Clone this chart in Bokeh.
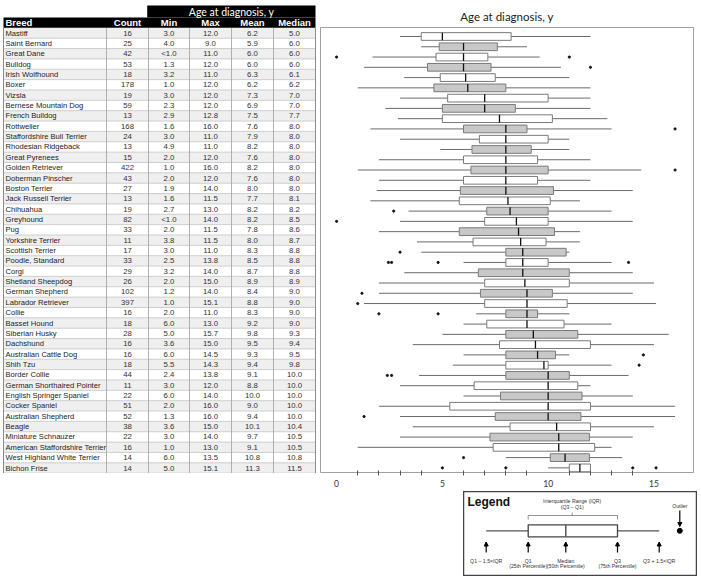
from bokeh.plotting import figure
from bokeh.models import ColumnDataSource, FixedTicker, Arrow, NormalHead, Spacer, Range1d
from bokeh.layouts import row, column
from bokeh.core.properties import value
from bokeh.embed import file_html
from bokeh.resources import INLINE

# ---------------- data ----------------
breeds = ["Mastiff", "Saint Bernard", "Great Dane", "Bulldog", "Irish Wolfhound", "Boxer", "Vizsla",
          "Bernese Mountain Dog", "French Bulldog", "Rottweiler", "Staffordshire Bull Terrier",
          "Rhodesian Ridgeback", "Great Pyrenees", "Golden Retriever", "Doberman Pinscher",
          "Boston Terrier", "Jack Russell Terrier", "Chihuahua", "Greyhound", "Pug",
          "Yorkshire Terrier", "Scottish Terrier", "Poodle, Standard", "Corgi", "Shetland Sheepdog",
          "German Shepherd", "Labrador Retriever", "Collie", "Basset Hound", "Siberian Husky",
          "Dachshund", "Australian Cattle Dog", "Shih Tzu", "Border Collie",
          "German Shorthaired Pointer", "English Springer Spaniel", "Cocker Spaniel",
          "Australian Shepherd", "Beagle", "Miniature Schnauzer", "American Staffordshire Terrier",
          "West Highland White Terrier", "Bichon Frise"]
counts = [16, 25, 42, 53, 18, 178, 19, 59, 13, 168, 24, 13, 15, 422, 43, 27, 13, 19, 82, 33, 11, 17,
          33, 29, 26, 102, 397, 16, 18, 28, 16, 16, 18, 44, 11, 22, 51, 52, 38, 22, 16, 14, 14]
age_min = ["3.0", "4.0", "<1.0", "1.3", "3.2", "1.0", "3.0", "2.3", "2.9", "1.6", "3.0", "4.9", "2.0",
           "1.0", "2.0", "1.9", "1.6", "2.7", "<1.0", "2.0", "3.8", "3.0", "2.5", "3.2", "2.0", "1.2",
           "1.0", "2.0", "6.0", "5.0", "3.6", "6.0", "5.5", "2.4", "3.0", "6.0", "2.0", "1.3", "3.6",
           "3.0", "1.0", "6.0", "5.0"]
age_max = [12.0, 9.0, 11.0, 12.0, 11.0, 12.0, 12.0, 12.0, 12.8, 16.0, 11.0, 11.0, 12.0, 16.0, 12.0,
           14.0, 11.5, 13.0, 14.0, 11.5, 11.5, 11.0, 13.8, 14.0, 15.0, 14.0, 15.1, 11.0, 13.0, 15.7,
           15.0, 14.5, 14.3, 13.8, 12.0, 14.0, 16.0, 16.0, 15.0, 14.0, 13.0, 13.5, 15.1]
age_mean = [6.2, 5.9, 6.0, 6.0, 6.3, 6.2, 7.3, 6.9, 7.5, 7.6, 7.9, 8.2, 7.6, 8.2, 7.6, 8.0, 7.7, 8.2,
            8.2, 7.8, 8.0, 8.3, 8.5, 8.7, 8.9, 8.4, 8.8, 8.3, 9.2, 9.8, 9.5, 9.3, 9.4, 9.1, 8.8, 10.0,
            9.0, 9.4, 10.1, 9.7, 9.1, 10.8, 11.3]
age_median = [5.0, 6.0, 6.0, 6.0, 6.1, 6.2, 7.0, 7.0, 7.7, 8.0, 8.0, 8.0, 8.0, 8.0, 8.0, 8.0, 8.1, 8.2,
              8.5, 8.6, 8.7, 8.8, 8.8, 8.8, 8.9, 9.0, 9.0, 9.0, 9.0, 9.3, 9.4, 9.5, 9.8, 10.0, 10.0,
              10.0, 10.0, 10.0, 10.4, 10.5, 10.5, 10.8, 11.5]

# box-plot statistics
whisker_low = [3.0, 4.0, 1.7, 1.3, 3.2, 1.0, 3.0, 2.3, 2.9, 1.6, 3.0, 4.9, 2.0, 1.0, 2.0, 1.9, 1.6, 3.4,
               3.0, 2.0, 3.8, 4.0, 6.0, 3.2, 2.0, 2.0, 1.3, 6.6, 6.0, 5.0, 3.6, 6.0, 5.5, 3.9, 3.0, 6.0,
               2.0, 3.0, 3.6, 3.0, 1.0, 8.0, 10.0]
q1 = [4.0, 4.85, 4.7, 4.3, 4.9, 4.6, 5.25, 5.0, 5.0, 6.0, 6.75, 6.4, 6.0, 6.35, 6.0, 5.85, 5.8, 7.1,
      7.0, 5.8, 6.45, 8.0, 8.0, 6.7, 7.0, 6.8, 7.0, 8.0, 7.1, 8.0, 7.7, 8.0, 8.0, 8.0, 6.5, 7.75,
      5.35, 7.5, 8.2, 7.25, 7.4, 10.1, 11.0]
q3 = [8.25, 7.6, 7.15, 7.3, 7.5, 8.0, 10.0, 8.45, 10.2, 9.0, 10.0, 9.2, 9.5, 10.0, 9.5, 10.25, 10.1,
      10.0, 10.0, 10.3, 9.9, 10.85, 10.0, 11.0, 11.0, 10.2, 10.9, 9.5, 10.75, 11.4, 12.0, 10.35, 10.0,
      11.0, 11.4, 11.6, 12.0, 11.55, 12.0, 11.95, 12.2, 11.95, 12.0]
whisker_high = [12.0, 9.0, 9.6, 10.6, 11.0, 12.0, 12.0, 12.0, 12.8, 13.0, 11.0, 11.0, 12.0, 14.4,
                12.0, 14.0, 11.5, 13.0, 14.0, 11.5, 11.5, 11.0, 13.0, 14.0, 15.0, 14.0, 15.1, 11.0,
                13.0, 15.7, 15.0, 11.0, 13.0, 13.8, 12.0, 14.0, 16.0, 16.0, 15.0, 14.0, 13.0, 13.5,
                12.0]
outliers = [[], [], [0.0, 11.0], [12.0], [], [], [], [], [], [16.0], [], [], [], [16.0], [], [], [],
            [2.7], [0.0], [], [], [3.0], [2.45, 2.6, 4.8, 13.8], [], [], [1.2], [1.0], [2.0, 4.8], [],
            [], [], [14.5], [14.3], [2.4, 2.6], [], [], [], [1.3], [], [], [], [6.0],
            [5.0, 8.0, 14.0, 15.1]]
x_ticks = [0, 5, 10, 15]
x_minor_ticks = [1, 2, 3, 4, 6, 7, 8, 9, 11, 12, 13, 14]

n = len(breeds)
rows = list(range(n))
fmt = lambda v: f"{v:.1f}"

TXT = "#222222"
FONT = value("Liberation Sans")

# ---------------- table ----------------
tbl = figure(width=316, height=473, x_range=Range1d(0, 316), y_range=Range1d(42.53, -3.14),
             output_backend="svg", toolbar_location=None, min_border=0,
             x_axis_location=None, y_axis_location=None, outline_line_color=None)
tbl.grid.visible = False

T_L, T_R = 3, 315
col_edges = [106, 148, 189, 231, 273]
col_centers = [127, 168.5, 210, 252, 294]

shade_rows = [r for r in rows if r % 2 == 0]
tbl.quad(left=T_L, right=T_R, top=[r - 0.5 for r in shade_rows], bottom=[r + 0.5 for r in shade_rows],
         fill_color="#efefef", line_color=None)
tbl.segment(x0=T_L, x1=T_R, y0=[r + 0.5 for r in rows], y1=[r + 0.5 for r in rows],
            line_color="#c4c4c4", line_width=0.8)
tbl.segment(x0=col_edges, x1=col_edges, y0=-0.5, y1=n - 0.5, line_color="#a8a8a8", line_width=0.9)
tbl.segment(x0=[T_L, T_R], x1=[T_L, T_R], y0=-0.5, y1=n - 0.5, line_color="#8c8c8c", line_width=1)
# header bands
tbl.quad(left=146.7, right=T_R, top=-2.66, bottom=-1.5, fill_color="black", line_color=None)
tbl.quad(left=T_L, right=T_R, top=-1.5, bottom=-0.5, fill_color="black", line_color=None)
tbl.text(x=[231], y=[-2.06], text=["Age at diagnosis, y"], text_color="white",
         text_font=value("Lato"), text_font_size="10.5px", text_align="center", text_baseline="middle")
hdr = ["Count", "Min", "Max", "Mean", "Median"]
tbl.text(x=[5], y=[-1], text=["Breed"], text_color="white", text_font=FONT, text_font_size="9.5px",
         text_font_style="bold", text_align="left", text_baseline="middle")
tbl.text(x=col_centers, y=[-1] * len(hdr), text=hdr, text_color="white", text_font=FONT,
         text_font_size="9.5px", text_font_style="bold", text_align="center", text_baseline="middle")

src = ColumnDataSource(dict(row=rows, breed=breeds, count=[str(c) for c in counts], mn=age_min,
                            mx=[fmt(v) for v in age_max], mean=[fmt(v) for v in age_mean],
                            med=[fmt(v) for v in age_median]))
tbl.text(x=5, y="row", text="breed", source=src, text_color=TXT, text_font=FONT,
         text_font_size="7.6px", text_align="left", text_baseline="middle")
for cx, field in zip(col_centers, ["count", "mn", "mx", "mean", "med"]):
    tbl.text(x=cx, y="row", text=field, source=src, text_color="#333333", text_font=FONT,
             text_font_size="7.8px", text_align="center", text_baseline="middle")

# ---------------- box plot ----------------
bp = figure(frame_width=373, frame_height=445, x_range=Range1d(-0.76, 16.87),
            y_range=Range1d(42.45, -0.876), output_backend="svg", toolbar_location=None,
            min_border_left=4, min_border_right=3, min_border_top=27, min_border_bottom=19,
            y_axis_location=None, title="Age at diagnosis, y",
            outline_line_color="#a0a0a0", outline_line_width=1)
bp.title.align = "center"
bp.title.text_font = "Lato"
bp.title.text_font_size = "11.5px"
bp.title.text_font_style = "normal"
bp.title.text_color = "#222222"
bp.title.standoff = 10
bp.grid.visible = False
ax = bp.xaxis[0]
ax.ticker = FixedTicker(ticks=x_ticks, minor_ticks=x_minor_ticks)
ax.axis_line_color = None
ax.major_tick_in = 0
ax.major_tick_out = 0
ax.minor_tick_in = 2
ax.minor_tick_out = 3
ax.minor_tick_line_color = "#555555"
ax.major_label_standoff = 4
ax.major_label_text_font = "Lato"
ax.major_label_text_font_size = "8.5px"
ax.major_label_text_color = "#333333"

BH = 0.75
fills = ["white" if r % 2 == 0 else "#c8c8c8" for r in rows]
bsrc = ColumnDataSource(dict(row=rows, wl=whisker_low, q1=q1, med=age_median, q3=q3,
                             wh=whisker_high, fill=fills,
                             top=[r - BH / 2 for r in rows], bot=[r + BH / 2 for r in rows]))
bp.segment(x0="wl", x1="q1", y0="row", y1="row", source=bsrc, line_color="#6a6a6a", line_width=1)
bp.segment(x0="q3", x1="wh", y0="row", y1="row", source=bsrc, line_color="#6a6a6a", line_width=1)
bp.hbar(y="row", left="q1", right="q3", height=BH, fill_color="fill", line_color="#7a7a7a",
        line_width=1, source=bsrc)
bp.segment(x0="med", x1="med", y0="top", y1="bot", source=bsrc, line_color="#111111", line_width=1.3)
ox, oy = [], []
for r, outs in zip(rows, outliers):
    for v in outs:
        ox.append(v)
        oy.append(r)
bp.scatter(x=ox, y=oy, size=2.2, color="#111111")

# ---------------- legend schematic ----------------
leg = figure(width=234, height=85, x_range=Range1d(0, 234), y_range=Range1d(85, 0),
             output_backend="svg", toolbar_location=None, min_border=0,
             x_axis_location=None, y_axis_location=None,
             outline_line_color="#444444", outline_line_width=1.5)
leg.grid.visible = False
LX = dict(lo=22.7, q1=64.7, med=102.3, q3=154.0, hi=195.7, out=216.3)
yb = 39.3
leg.segment(x0=[LX["lo"], LX["q3"]], x1=[LX["q1"], LX["hi"]], y0=yb, y1=yb, line_color="#555555",
            line_width=1.2)
leg.quad(left=LX["q1"], right=LX["q3"], top=yb - 6, bottom=yb + 6, fill_color="white",
         line_color="#444444", line_width=1.3)
leg.segment(x0=LX["med"], x1=LX["med"], y0=yb - 6, y1=yb + 6, line_color="#555555", line_width=1.5)
leg.scatter(x=[LX["out"]], y=[yb], size=5, color="black")
leg.multi_line(xs=[[LX["q1"], LX["q1"], LX["q3"], LX["q3"]], [108.7, 108.7]],
               ys=[[28, 24, 24, 28], [24, 21]], line_color="#777777", line_width=0.8)
leg.text(x=[4], y=[10], text=["Legend"], text_font=FONT, text_font_size="12px",
         text_font_style="bold", text_color="#111111", text_baseline="middle")
small = dict(text_font=FONT, text_font_size="5.2px", text_color="#333333", text_align="center",
             text_baseline="middle")
leg.text(x=[108.7, 108.7], y=[9, 15.5], text=["Interquartile Range (IQR)", "(Q3 \u2013 Q1)"], **small)
leg.text(x=[LX["out"]], y=[14], text=["Outlier"], **small)
leg.add_layout(Arrow(end=NormalHead(size=4, fill_color="black", line_color="black"),
                     x_start=LX["out"], y_start=19, x_end=LX["out"], y_end=35,
                     line_color="black", line_width=1.2))
for k in ["lo", "q1", "med", "q3", "hi"]:
    leg.add_layout(Arrow(end=NormalHead(size=4, fill_color="black", line_color="black"),
                         x_start=LX[k], y_start=61, x_end=LX[k], y_end=50.5,
                         line_color="black", line_width=1.2))
leg.text(x=[LX["lo"], LX["q1"], LX["med"], LX["q3"], LX["hi"]], y=[69.7] * 5,
         text=["Q1 \u2013 1.5\u00d7IQR", "Q1", "Median", "Q3", "Q3 + 1.5\u00d7IQR"], **small)
leg.text(x=[LX["q1"], LX["med"], LX["q3"]], y=[74.7] * 3,
         text=["(25th Percentile)", "(50th Percentile)", "(75th Percentile)"], **small)

layout = row(tbl, column(bp, row(Spacer(width=147, height=85), leg)))

open("out.html", "w").write(file_html(layout, INLINE))
